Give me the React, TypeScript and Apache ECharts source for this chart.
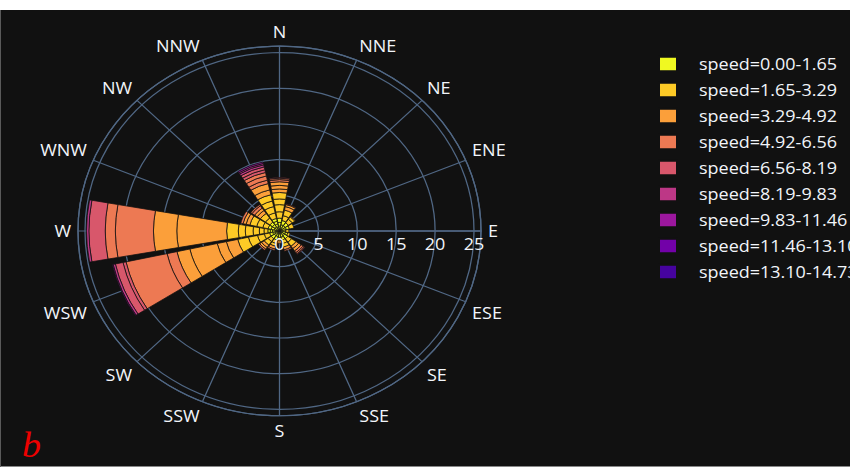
import { useEffect, useRef } from 'react';
import * as echarts from 'echarts';

// Compass sectors, clockwise from north
const directions = ['N', 'NNE', 'NE', 'ENE', 'E', 'ESE', 'SE', 'SSE', 'S', 'SSW', 'SW', 'WSW', 'W', 'WNW', 'NW', 'NNW'];

const speedBins = [
  'speed=0.00-1.65',
  'speed=1.65-3.29',
  'speed=3.29-4.92',
  'speed=4.92-6.56',
  'speed=6.56-8.19',
  'speed=8.19-9.83',
  'speed=9.83-11.46',
  'speed=11.46-13.10',
  'speed=13.10-14.73',
];

// Plasma (reversed) palette, one colour per speed bin
const binColors = ['#f0f921', '#fdca26', '#fb9f3a', '#ed7953', '#d8576b', '#bd3786', '#9c179e', '#7201a8', '#46039f'];

const radialTicks = [0, 5, 10, 15, 20, 25];
const radialMax = 25.9;

// Frequency (%) records per direction, in the order of `directions`.
// Each record is stacked as its own segment.
const speed000_165 = [
  [0.3, 0.4, 0.5, 0.6], // N
  [0.4, 0.5, 0.6], // NNE
  [0.4, 0.5, 0.5], // NE
  [0.4, 0.5, 0.4], // ENE
  [0.4, 0.4], // E
  [0.4, 0.4, 0.3], // ESE
  [0.4, 0.4, 0.5], // SE
  [0.4, 0.5, 0.4], // SSE
  [0.4, 0.5], // S
  [0.4, 0.4, 0.5], // SSW
  [0.4, 0.4, 0.5], // SW
  [0.3, 0.3, 0.3, 0.4], // WSW
  [0.3, 0.25, 0.35, 0.3, 0.3], // W
  [0.3, 0.4, 0.4, 0.4], // WNW
  [0.3, 0.4, 0.4, 0.4], // NW
  [0.3, 0.3, 0.4, 0.4, 0.4], // NNW
];

const speed165_329 = [
  [0.9, 1.0, 0.8, 0.9], // N
  [0.7, 0.8], // NNE
  [0.6, 0.4], // NE
  [0.6], // ENE
  [0.4], // E
  [0.3], // ESE
  [0.6, 0.7], // SE
  [0.5, 0.5], // SSE
  [0.5], // S
  [0.5, 0.4], // SSW
  [0.5, 0.6], // SW
  [0.7, 0.9, 1.2, 1.4], // WSW
  [0.5, 0.6, 0.8, 1.0, 0.9, 1.5], // W
  [0.7, 0.8, 0.9], // WNW
  [0.7, 0.8], // NW
  [0.8, 0.9, 0.8, 0.9], // NNW
];

const speed329_492 = [
  [0.5, 0.5, 0.5], // N
  [0.5, 0.3], // NNE
  [0.1], // NE
  [], // ENE
  [], // E
  [], // ESE
  [0.4, 0.4], // SE
  [0.4], // SSE
  [0.3], // S
  [0.4], // SSW
  [0.4, 0.3], // SW
  [1.5, 1.2, 3.6, 1.7], // WSW
  [6.4, 3.0], // W
  [0.5, 0.4], // WNW
  [0.5, 0.4], // NW
  [0.7, 0.9], // NNW
];

const speed492_656 = [
  [0.3, 0.2], // N
  [0.1], // NNE
  [], // NE
  [], // ENE
  [], // E
  [], // ESE
  [0.3, 0.2], // SE
  [0.2], // SSE
  [], // S
  [0.2], // SSW
  [0.2], // SW
  [1.3, 5.4], // WSW
  [4.9, 1.3], // W
  [0.3], // WNW
  [0.4, 0.2], // NW
  [0.5, 0.6, 0.5], // NNW
];

const speed656_819 = [
  [0.1], // N
  [], [], [], [], [],
  [0.1], // SE
  [], [], [], [],
  [0.4, 1.0], // WSW
  [2.1], // W
  [], [],
  [0.4, 0.4], // NNW
];

const speed819_983 = [
  [], [], [], [], [], [], [], [], [], [], [],
  [0.3], // WSW
  [0.3], // W
  [], [],
  [0.3, 0.2], // NNW
];

const speed983_1146 = [
  [], [], [], [], [], [], [], [], [], [], [],
  [0.1], // WSW
  [], [], [],
  [0.2], // NNW
];

const speed1146_1310 = [[], [], [], [], [], [], [], [], [], [], [], [], [], [], [], []];
const speed1310_1473 = [[], [], [], [], [], [], [], [], [], [], [], [], [], [], [], []];

const binRecords = [
  speed000_165,
  speed165_329,
  speed329_492,
  speed492_656,
  speed656_819,
  speed819_983,
  speed983_1146,
  speed1146_1310,
  speed1310_1473,
];

const FONT = '"Open Sans", "Noto Sans", sans-serif';
const TEXT = '#f2f5fa';
const GRID = '#506784';

function compassLabel(v: number): string {
  if (v >= 360) return '';
  const compass = (((90 - v) % 360) + 360) % 360;
  return directions[Math.round(compass / 22.5) % 16];
}

function buildSeries() {
  const out: any[] = [];
  binRecords.forEach((rows, b) => {
    const depth = Math.max(1, ...rows.map((r) => r.length));
    for (let k = 0; k < depth; k++) {
      out.push({
        type: 'bar',
        coordinateSystem: 'polar',
        polarIndex: 1,
        name: speedBins[b],
        stack: 'wind',
        barCategoryGap: '10%',
        data: rows.map((r) => (k < r.length ? r[k] : null)),
        itemStyle: { color: binColors[b], borderColor: '#111111', borderWidth: 0.8 },
        emphasis: { disabled: true },
      });
    }
  });
  return out;
}

export default function App() {
  const ref = useRef<HTMLDivElement>(null);

  useEffect(() => {
    if (!ref.current) return;
    const chart = echarts.init(ref.current, undefined, { renderer: 'svg' });
    const center = [279.5, 241];
    const radius = 201.5;
    chart.setOption({
      animation: false,
      backgroundColor: '#111111',
      textStyle: { fontFamily: FONT },
      // 0: grid and compass labels, 1: stacked bars, 2: radial tick labels drawn on top
      polar: [
        { center, radius },
        { center, radius },
        { center, radius },
      ],
      angleAxis: [
        {
          polarIndex: 0,
          type: 'value',
          min: 0,
          max: 360,
          interval: 22.5,
          startAngle: 0,
          clockwise: false,
          axisLine: { show: true, lineStyle: { color: GRID, width: 1.3 } },
          axisTick: { show: false },
          splitLine: { show: true, lineStyle: { color: GRID, width: 1.3 } },
          axisLabel: { formatter: compassLabel, color: TEXT, fontSize: 18, fontFamily: FONT, margin: 7 },
        },
        {
          polarIndex: 1,
          type: 'category',
          data: directions,
          startAngle: 90 + 11.25,
          clockwise: true,
          show: false,
        },
        {
          polarIndex: 2,
          type: 'value',
          min: 0,
          max: 360,
          startAngle: 0,
          clockwise: false,
          show: false,
        },
      ],
      radiusAxis: [
        {
          polarIndex: 0,
          type: 'value',
          min: radialTicks[0],
          max: radialMax,
          interval: radialTicks[1] - radialTicks[0],
          axisLine: { show: true, lineStyle: { color: GRID, width: 1.6 } },
          axisTick: { show: false },
          splitLine: { show: true, lineStyle: { color: GRID, width: 1.3 } },
          axisLabel: { show: false },
        },
        { polarIndex: 1, type: 'value', min: 0, max: radialMax, show: false },
        {
          polarIndex: 2,
          type: 'value',
          min: radialTicks[0],
          max: radialMax,
          interval: radialTicks[1] - radialTicks[0],
          z: 10,
          axisLine: { show: false },
          axisTick: { show: false },
          splitLine: { show: false },
          axisLabel: {
            showMaxLabel: false,
            color: TEXT,
            fontSize: 18,
            fontFamily: FONT,
            margin: -14,
            align: 'center',
            verticalAlign: 'middle',
          },
        },
      ],
      legend: {
        data: speedBins,
        orient: 'vertical',
        left: 653,
        top: 43.8,
        icon: 'rect',
        itemWidth: 18,
        itemHeight: 15.6,
        itemGap: 8.35,
        selectedMode: false,
        textStyle: { color: TEXT, fontSize: 18, fontFamily: FONT, lineHeight: 20, padding: [0, 0, 0, 17] },
      },
      graphic: [
        {
          type: 'text',
          left: 22,
          top: 456,
          style: {
            text: 'b',
            font: 'italic 38px "Liberation Serif", "DejaVu Serif", serif',
            fill: '#ee0000',
          },
        },
      ],
      series: buildSeries(),
    });
    return () => chart.dispose();
  }, []);

  return (
    <div style={{ position: 'absolute', left: 0, top: 0, width: 850, height: 467, background: '#ffffff', overflow: 'hidden' }}>
      <div style={{ position: 'absolute', left: 0, top: 10, width: 850, height: 498, transform: 'scaleY(0.917)', transformOrigin: '0 0' }}>
        <div ref={ref} style={{ width: 850, height: 498 }} />
      </div>
      <div style={{ position: 'absolute', left: 0, top: 10, width: 1, height: 457, background: '#5a5a5a' }} />
    </div>
  );
}
